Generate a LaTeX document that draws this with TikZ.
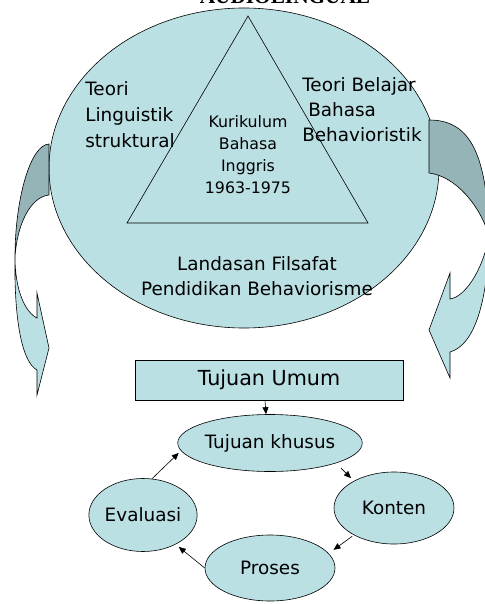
\documentclass[tikz,border=0pt]{standalone}
\usepackage{fontspec}
\setmainfont{DejaVu Sans}
\newfontfamily\titlefont{Liberation Serif}
\usetikzlibrary{shapes.geometric,arrows.meta}
\definecolor{paleteal}{RGB}{187,224,228}
\definecolor{darkteal}{RGB}{148,180,183}

\begin{document}
\begin{tikzpicture}[x=1pt, y=-1pt, line width=0.6pt,
	txt/.style={inner sep=0pt, font=\fontsize{18.4}{25}\selectfont},
	cyc/.style={draw, ellipse, fill=paleteal, inner sep=0pt,
		font=\fontsize{18.4}{22}\selectfont},
	arr/.style={-{Triangle[length=7pt,width=6pt]}},
	band/.style={draw, fill=darkteal},
	blade/.style={draw, fill=paleteal}]
  \useasboundingbox (0,0) rectangle (484,604);

  \node (judul) [anchor=base, inner sep=0pt,
    font=\titlefont\bfseries\fontsize{21.3}{24}\selectfont] at (285,4) {AUDIOLINGUAL};

  % the three foundations
  \draw[fill=paleteal] (244,168) ellipse [x radius=195pt, y radius=160pt];
  \draw (248,16) -- (368,223) -- (127,223) -- cycle;

  \node (linguistik) [txt, anchor=base west, align=left, font=\fontsize{18.4}{26}\selectfont]
    at (85,148) {Teori\\Linguistik\\struktural};
  \node (belajar) [txt, anchor=base west, align=left]
    at (302,142) {Teori Belajar\\\hspace*{6pt}Bahasa\\Behavioristik};
  \node (kurikulum) [txt, anchor=base, align=center, font=\fontsize{15.8}{21.7}\selectfont]
    at (248,193) {Kurikulum\\Bahasa\\Inggris\\1963-1975};
  \node (filsafat) [txt, anchor=base, align=center]
    at (257,295) {Landasan Filsafat\\Pendidikan Behaviorisme};

  % curved arrows
  \draw[band] (49,144) .. controls (30,145) and (15,200) .. (15,257)
    .. controls (17,225) and (30,197) .. (49,195) -- cycle;
  \draw[blade] (15,257) .. controls (14,320) and (22,362) .. (37,370)
    -- (37,395) -- (49,348) -- (37,293) -- (37,318)
    .. controls (25,312) and (15,290) .. (15,257);
  \draw[band] (429,120) .. controls (468,120) and (487,150) .. (489,236)
    .. controls (480,205) and (455,176) .. (429,173) -- cycle;
  \draw[blade] (489,236) .. controls (488,300) and (475,345) .. (450,352)
    -- (450,378) -- (429,330) -- (450,273) -- (450,299)
    .. controls (465,297) and (483,270) .. (489,236);

  % cycle
  \node (umum) [draw, fill=paleteal, minimum width=268pt, minimum height=40pt, inner sep=0pt,
    font=\fontsize{20.7}{24}\selectfont] at (269,380) {Tujuan Umum};
  \node (khusus) [cyc, minimum width=146pt, minimum height=57pt] at (270,443) {Tujuan khusus};
  \node (konten) [cyc, minimum width=120pt, minimum height=72pt] at (394,508) {Konten};
  \node (proses) [cyc, minimum width=130pt, minimum height=66pt] at (270,568) {Proses};
  \node (evaluasi) [cyc, minimum width=108pt, minimum height=73pt] at (143,515) {Evaluasi};

  \draw[arr] ([xshift=-4pt]umum.south) -- ([xshift=-4pt]khusus.north);
  \draw[arr, shorten <=7pt, shorten >=4pt] (khusus.-17) -- (konten.146);
  \draw[arr, shorten <=2pt, shorten >=6pt] (konten.214) -- (proses.14);
  \draw[arr, shorten >=4pt] (proses.180) -- (evaluasi.-42);
  \draw[arr, shorten >=3pt] (evaluasi.76) -- (khusus.185);
\end{tikzpicture}
\end{document}
